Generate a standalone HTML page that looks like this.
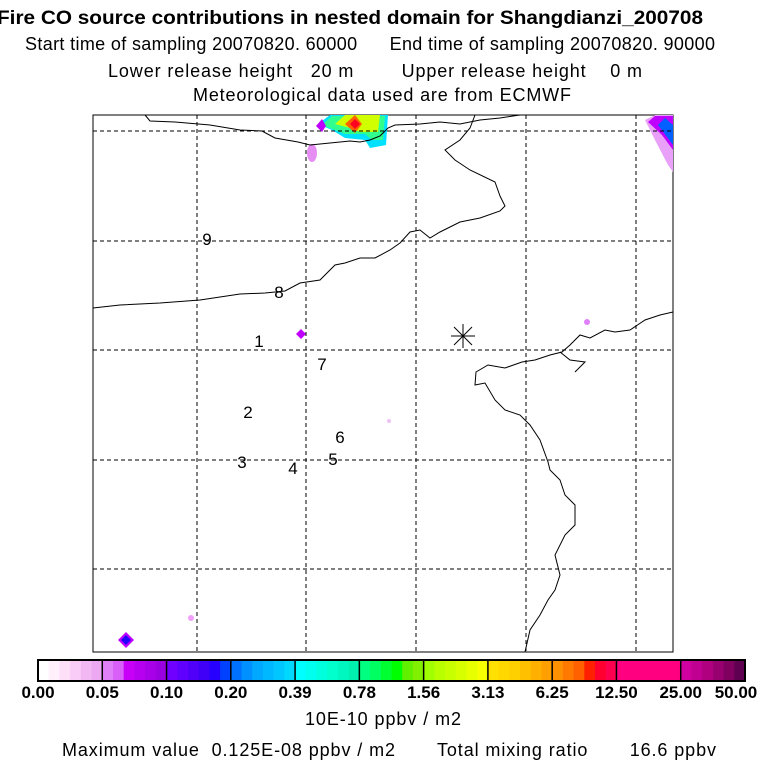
<!DOCTYPE html>
<html><head><meta charset="utf-8"><style>
body{margin:0;background:#fff;width:768px;height:768px;overflow:hidden}
svg text{font-family:"Liberation Sans",sans-serif;white-space:pre}
</style></head><body>
<svg id="c" width="768" height="768" viewBox="0 0 768 768">
<g font-size="18">
<text x="-3" y="24" font-weight="bold" font-size="19" textLength="706" lengthAdjust="spacingAndGlyphs">Fire CO source contributions in nested domain for Shangdianzi_200708</text>
<text x="25" y="50" textLength="690" lengthAdjust="spacing">Start time of sampling 20070820. 60000      End time of sampling 20070820. 90000</text>
<text x="108" y="77" textLength="534" lengthAdjust="spacing">Lower release height   20 m        Upper release height    0 m</text>
<text x="193" y="101" textLength="378" lengthAdjust="spacing">Meteorological data used are from ECMWF</text>
</g>
<g id="map">
<rect x="93" y="115" width="580" height="537" fill="#fff" stroke="#000" stroke-width="1"/>
<g id="plumes">
<polygon points="318,124 330,115 388,115 386,145 370,148 365,140 345,138 332,130" fill="#00e0ff"/>
<polygon points="322,125 332,116 385,116 383,140 372,140 365,134 345,134" fill="#30ff90"/>
<polygon points="335,124 345,115 380,115 378,132 360,132 350,128" fill="#d0ff00"/>
<polygon points="345,124 355,115 362,124 355,133" fill="#ff6000"/>
<polygon points="350,124 355,119 360,124 355,129" fill="#ff0020"/>
<polygon points="316,126 322,119 326,126 322,132" fill="#c000ff"/>
<ellipse cx="312" cy="153" rx="5" ry="9" fill="#e070f0" opacity=".8"/>
<polygon points="645,120 655,115 673,115 673,172 668,165 655,140" fill="#e8a0f8"/>
<polygon points="648,122 655,116 673,116 673,150 662,135" fill="#c000ff"/>
<polygon points="658,125 665,118 673,125 673,145" fill="#0060ff"/>
<polygon points="118,640 126,632 134,640 126,648" fill="#c000ff"/>
<polygon points="121,640 126,635 131,640 126,645" fill="#2000ff"/>
<polygon points="296,334 301,329 306,334 301,339" fill="#c000ff"/>
<circle cx="587" cy="322" r="3" fill="#e080f8"/>
<circle cx="191" cy="618" r="3" fill="#f0a0f8"/>
<circle cx="389" cy="421" r="2" fill="#f0c0f8"/>
</g>
<g id="grid" stroke="#000" stroke-dasharray="4,3" stroke-width="1"></g>
<g fill="none" stroke="#000" stroke-width="1">
<polyline points="145,115 150,121 175,122 210,125 240,130 262,131 275,138 298,142 310,145 330,143 350,141 360,142 370,140 380,136 388,128 395,125 420,124 440,122 460,124 480,120 500,118 520,115"/>
<polyline points="93,308 120,305 160,303 200,300 240,294 265,293 285,291 300,283 320,280 335,265 345,263 360,258 375,258 390,250 400,243 410,232 420,230 430,238 440,232 460,222 470,220 480,218 500,211 505,206 500,196 495,182 470,170 455,160 445,150 460,140 470,128 475,115"/>
<polyline points="673,312 660,315 645,320 630,330 615,332 605,330 590,338 580,335 570,345 562,352 550,355 535,360 522,362 505,368 488,365 476,372 475,385 485,383 495,400 505,410 520,415 530,425 540,440 548,462 550,470 560,480 565,495 575,505 575,525 565,535 555,555 560,575 555,590 548,600 540,615 530,630 525,652"/>
<polyline points="560,352 570,360 585,362 575,372"/>
</g>
<g font-size="17" text-anchor="middle" id="labels"></g>
<g stroke="#000" stroke-width="1">
<line x1="451" y1="336" x2="475" y2="336"/><line x1="463" y1="324" x2="463" y2="348"/>
<line x1="454" y1="327" x2="472" y2="345"/><line x1="472" y1="327" x2="454" y2="345"/>
</g>
</g>
<g id="cbar"></g>
<text x="305" y="725" font-size="18" textLength="156" lengthAdjust="spacing">10E-10 ppbv / m2</text>
<text x="62" y="756" font-size="18" textLength="654" lengthAdjust="spacing">Maximum value  0.125E-08 ppbv / m2       Total mixing ratio       16.6 ppbv</text>
</svg>
<script>
const gridX = [197, 306, 416, 526, 636];
const gridY = [131, 241, 350, 460, 569];
const siteNames = ["9","8","1","7","2","6","3","4","5"];
const siteX = [207, 279, 259, 322, 248, 340, 242, 293, 333];
const siteY = [245, 298, 347, 370, 418, 443, 468, 474, 465];
const tickLabels = ["0.00","0.05","0.10","0.20","0.39","0.78","1.56","3.13","6.25","12.50","25.00","50.00"];
const segColors = [
 ["#ffffff","#fff0fc","#fde0f8","#f8ccf6","#f2b8f4","#eca8f2"],
 ["#e080f8","#d860f8","#c800f8","#b800f0","#a800e8","#9a00e0"],
 ["#7000ff","#6000ff","#5000f8","#4000f8","#2800ff","#0040ff"],
 ["#0070ff","#0090ff","#00a8ff","#00b8ff","#00c8ff","#00d8ff"],
 ["#00ffff","#00ffee","#00ffdd","#00ffcc","#00f8c0","#00f0b0"],
 ["#00ff80","#00ff60","#00ff30","#00ff00","#60f000","#80f000"],
 ["#a0ff00","#b8ff00","#c8ff00","#d8ff00","#e8ff00","#f8ff00"],
 ["#ffe000","#ffd800","#ffd000","#ffc000","#ffb000","#ffa000"],
 ["#ff9000","#ff7800","#ff6000","#ff2000","#ff0030","#ff0050"],
 ["#ff0080","#ff0080","#ff0080","#ff0080","#ff0080","#ff0080"],
 ["#d000a0","#c00090","#b00080","#980070","#800060","#600050"]
];
const NS="http://www.w3.org/2000/svg";
function mk(t,a,p){const e=document.createElementNS(NS,t);for(const k in a)e.setAttribute(k,a[k]);p.appendChild(e);return e;}
const mapL=93,mapR=673,mapT=115,mapB=652;
const grid=document.getElementById('grid');
gridX.forEach(x=>{const l=mk('line',{x1:x,y1:mapT,x2:x,y2:mapB},grid);

});
gridY.forEach(y=>{const l=mk('line',{x1:mapL,y1:y,x2:mapR,y2:y},grid);

});
const lab=document.getElementById('labels');
siteNames.forEach((n,i)=>{const t=mk('text',{x:siteX[i],y:siteY[i]},lab);t.textContent=n;

});
const cb=document.getElementById('cbar');
const cx0=38,cx1=745,cy=660,ch=21;
const n=segColors.length,sw=(cx1-cx0)/n;
segColors.forEach((cols,i)=>{cols.forEach((c,j)=>{const r=mk('rect',{x:cx0+i*sw+j*sw/cols.length,y:cy,width:sw/cols.length+0.5,height:ch,fill:c},cb);

});});
for(let i=1;i<n;i++){const l=mk('line',{x1:cx0+i*sw,y1:cy,x2:cx0+i*sw,y2:cy+ch,stroke:'#000','stroke-width':1.5},cb);

}
const fr=mk('rect',{x:cx0,y:cy,width:cx1-cx0,height:ch,fill:'none',stroke:'#000','stroke-width':2},cb);


tickLabels.forEach((s,i)=>{const t=mk('text',{x:Math.min(Math.max(cx0+i*sw,22),736),y:698,'font-size':17,'font-weight':'bold','text-anchor':'middle'},cb);t.textContent=s;

});
</script>
</body></html>
